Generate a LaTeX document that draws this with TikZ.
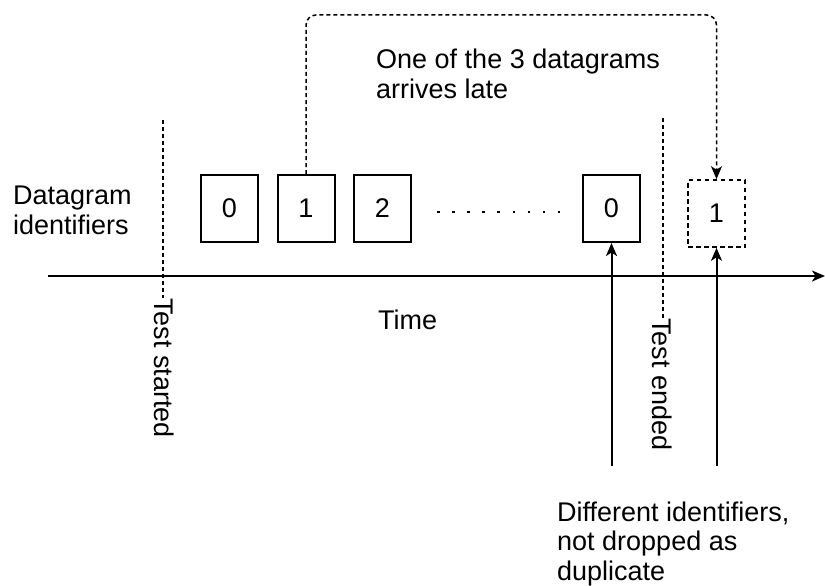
\documentclass[tikz,border=0pt]{standalone}
\usepackage{fontspec}
\setmainfont{Liberation Sans}
\usetikzlibrary{arrows.meta}
\begin{document}
\begin{tikzpicture}[x=1pt,y=-1pt,
  every node/.style={font=\fontsize{27}{29.5}\selectfont},
  txt/.style={inner sep=0pt,align=left},
  idbox/.style={draw,line width=2pt,minimum width=57pt,minimum height=67pt,inner sep=0pt},
  latebox/.style={idbox,line width=1.6pt,dash pattern=on 4.5pt off 3.5pt},
  marker/.style={line width=1.5pt,dash pattern=on 4pt off 3pt},
  tip/.style={-{Stealth[length=13pt,width=11pt,inset=3.5pt]}},
  axis/.style={line width=2pt}
]
\useasboundingbox (0,0) rectangle (825,586);

% datagram boxes along the time line
\node[idbox] (d0) at (229.5,208.5) {0};
\node[idbox] (d1) at (306,208.5) {1};
\node[idbox] (d2) at (382.5,208.5) {2};
\node[idbox] (d0b) at (611.5,208.5) {0};
\node[latebox] (late) at (716.5,213.5) {1};

% gap between the sequences
\coordinate (dotsA) at (437,212);
\coordinate (dotsB) at (562,212);
\draw[line width=2.6pt,dash pattern=on 2.6pt off 12.5pt] (dotsA) -- (dotsB);

% time axis
\coordinate (axA) at (48,276);
\coordinate (axB) at (825,276);
\draw[axis,tip] (axA) -- (axB);

% start and end markers
\coordinate (sTop) at (163,120);
\node[txt,rotate=-90,anchor=west] (started) at (164,298) {Test started};
\draw[marker] (sTop) -- (163,298);
\coordinate (eTop) at (663,118);
\node[txt,rotate=-90,anchor=west] (ended) at (662,318) {Test ended};
\draw[marker] (eTop) -- (663,318);

% labels (anchored on the baseline of their last line)
\node[txt,anchor=base west] (lblId) at (13,234) {Datagram\\identifiers};
\node[txt,anchor=base west] (lblTime) at (378,329) {Time};
\node[txt,anchor=base west] (lblLate) at (376,98.5) {One of the 3 datagrams\\arrives late};
\node[txt,anchor=base west] (lblDiff) at (557,580) {Different identifiers,\\not dropped as\\duplicate};

% late arrival path
\draw[line width=1.5pt,dash pattern=on 4pt off 3pt,rounded corners=10pt,tip]
  (d1.north) -- (306,15) -- (716.5,15) -- (late.north);

% pointers to the two identifiers
\coordinate (p0) at (611.5,466);
\coordinate (p1) at (716.5,466);
\draw[line width=2pt,tip] (p0) -- (d0b.south);
\draw[line width=2pt,tip] (p1) -- (late.south);
\end{tikzpicture}
\end{document}
